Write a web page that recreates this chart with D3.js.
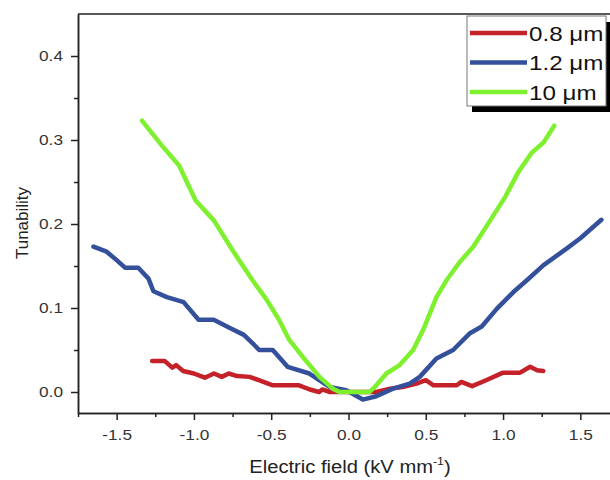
<!DOCTYPE html>
<html>
<head>
<meta charset="utf-8">
<script src="https://cdn.jsdelivr.net/npm/d3@7"></script>
<style>
  body { margin: 0; background: #fff; }
  text { font-family: Arial, "Liberation Sans", sans-serif; }
</style>
</head>
<body>
<script>
'use strict';

// series values (field in kV/mm, tunability)
const field08 = [-1.27, -1.19, -1.14, -1.115, -1.07, -1.0, -0.93, -0.87, -0.82, -0.775, -0.72, -0.64, -0.58, -0.49, -0.32, -0.25, -0.19, -0.17, -0.12, -0.05, 0.05, 0.18, 0.27, 0.35, 0.44, 0.50, 0.55, 0.70, 0.73, 0.80, 0.89, 1.0, 1.11, 1.175, 1.22, 1.26];
const tun08 = [0.037, 0.037, 0.029, 0.032, 0.025, 0.022, 0.017, 0.022, 0.018, 0.022, 0.019, 0.018, 0.014, 0.008, 0.008, 0.003, 0.0, 0.003, 0.0, 0.0, 0.0, 0.0, 0.004, 0.006, 0.010, 0.014, 0.008, 0.008, 0.012, 0.007, 0.014, 0.023, 0.023, 0.030, 0.026, 0.025];

const field12 = [-1.65, -1.565, -1.5, -1.446, -1.36, -1.294, -1.262, -1.175, -1.067, -0.97, -0.872, -0.764, -0.677, -0.62, -0.578, -0.49, -0.394, -0.253, -0.123, -0.015, 0.093, 0.18, 0.288, 0.396, 0.461, 0.569, 0.677, 0.786, 0.862, 0.959, 1.067, 1.154, 1.262, 1.413, 1.5, 1.636];
const tun12 = [0.173, 0.167, 0.157, 0.148, 0.148, 0.135, 0.120, 0.113, 0.107, 0.086, 0.086, 0.076, 0.068, 0.058, 0.050, 0.050, 0.030, 0.022, 0.006, 0.002, -0.009, -0.005, 0.004, 0.010, 0.018, 0.040, 0.050, 0.070, 0.078, 0.099, 0.119, 0.133, 0.151, 0.171, 0.183, 0.205];

const field10 = [-1.336, -1.206, -1.097, -0.989, -0.87, -0.751, -0.621, -0.53, -0.448, -0.383, -0.297, -0.188, -0.102, -0.058, 0.136, 0.18, 0.245, 0.331, 0.418, 0.483, 0.569, 0.634, 0.721, 0.807, 0.916, 1.013, 1.099, 1.186, 1.262, 1.331];
const tun10 = [0.323, 0.293, 0.270, 0.228, 0.204, 0.169, 0.133, 0.11, 0.0855, 0.062, 0.042, 0.018, 0.004, 0.0, 0.0, 0.008, 0.022, 0.032, 0.050, 0.074, 0.113, 0.133, 0.155, 0.173, 0.204, 0.232, 0.262, 0.285, 0.297, 0.317];

const seriesNames = ['0.8 \u03bcm', '1.2 \u03bcm', '10 \u03bcm'];
const seriesColors = ['#c42129', '#34509a', '#7ef02e'];

const xTicks = [-1.5, -1.0, -0.5, 0.0, 0.5, 1.0, 1.5];
const xMinor = [-1.75, -1.25, -0.75, -0.25, 0.25, 0.75, 1.25];
const yTicks = [0.0, 0.1, 0.2, 0.3, 0.4];
const yMinor = [0.05, 0.15, 0.25, 0.35];

(function() {
  const svg = d3.select('body').append('svg')
    .attr('width', 610)
    .attr('height', 480);

  const x = d3.scaleLinear().domain([-1.75, 1.75]).range([78, 619]);
  const y = d3.scaleLinear().domain([-0.025, 0.45]).range([413, 14]);

  const fmt = d => d.toFixed(1);

  // the original picture is a bit wider than tall, so widen text to match
  function widen(sel, k) {
    sel.each(function() {
      const w = this.getComputedTextLength();
      d3.select(this)
        .attr('textLength', w * k)
        .attr('lengthAdjust', 'spacingAndGlyphs');
    });
  }

  // minor ticks first, majors on top
  svg.append('g')
    .attr('transform', 'translate(0,413)')
    .call(d3.axisBottom(x).tickValues(xMinor).tickSize(4).tickSizeOuter(0).tickFormat(''));
  const xAxis = svg.append('g')
    .attr('transform', 'translate(0,413)')
    .call(d3.axisBottom(x).tickValues(xTicks).tickSize(7).tickSizeOuter(0).tickFormat(fmt));

  svg.append('g')
    .attr('transform', 'translate(78,0)')
    .call(d3.axisLeft(y).tickValues(yMinor).tickSize(4).tickSizeOuter(0).tickFormat(''));
  const yAxis = svg.append('g')
    .attr('transform', 'translate(78,0)')
    .call(d3.axisLeft(y).tickValues(yTicks).tickSize(7).tickSizeOuter(0).tickFormat(fmt));

  svg.selectAll('.domain, .tick line')
    .attr('stroke', '#222')
    .attr('stroke-width', 1.5);

  xAxis.selectAll('text')
    .attr('y', 16)
    .style('font-size', '15px')
    .attr('fill', '#333')
    .call(widen, 1.15);
  yAxis.selectAll('text')
    .attr('x', -15)
    .style('font-size', '15px')
    .attr('fill', '#333')
    .call(widen, 1.15);

  // top frame line
  svg.append('line')
    .attr('x1', x(-1.75)).attr('x2', x(1.75))
    .attr('y1', y(0.45)).attr('y2', y(0.45))
    .attr('stroke', '#222')
    .attr('stroke-width', 1.5);

  // curves
  const line = d3.line()
    .x(d => x(d[0]))
    .y(d => y(d[1]));

  const series = [
    d3.zip(field08, tun08),
    d3.zip(field12, tun12),
    d3.zip(field10, tun10)
  ];

  series.forEach((s, i) => {
    svg.append('path')
      .datum(s)
      .attr('d', line)
      .attr('fill', 'none')
      .attr('stroke', seriesColors[i])
      .attr('stroke-width', 4.5)
      .attr('stroke-linejoin', 'round')
      .attr('stroke-linecap', 'round');
  });

  // axis labels
  const xLabel = svg.append('text')
    .attr('x', 350)
    .attr('y', 473)
    .attr('text-anchor', 'middle')
    .style('font-size', '18px')
    .attr('fill', '#222');
  xLabel.append('tspan').text('Electric field (kV mm');
  xLabel.append('tspan')
    .attr('dy', -8)
    .style('font-size', '11px')
    .text('-1');
  xLabel.append('tspan')
    .attr('dy', 8)
    .text(')');
  xLabel.call(widen, 1.12);

  svg.append('text')
    .attr('transform', 'translate(28,223)rotate(-90)')
    .attr('text-anchor', 'middle')
    .style('font-size', '17px')
    .attr('fill', '#222')
    .text('Tunability');

  // legend with drop shadow
  const legend = svg.append('g');
  legend.append('rect')
    .attr('x', 472).attr('y', 22)
    .attr('width', 140).attr('height', 90)
    .attr('fill', '#000');
  legend.append('rect')
    .attr('x', 467).attr('y', 16)
    .attr('width', 139).attr('height', 90)
    .attr('fill', '#fff')
    .attr('stroke', '#777')
    .attr('stroke-width', 1);

  seriesNames.forEach((name, i) => {
    const ly = 33 + 29.5 * i;
    legend.append('line')
      .attr('x1', 470).attr('x2', 527)
      .attr('y1', ly).attr('y2', ly)
      .attr('stroke', seriesColors[i])
      .attr('stroke-width', 4.5);
    legend.append('text')
      .attr('x', 529)
      .attr('y', ly + 7.5)
      .style('font-size', '21px')
      .attr('fill', '#111')
      .text(name)
      .call(widen, 1.15);
  });
})();
</script>
</body>
</html>
